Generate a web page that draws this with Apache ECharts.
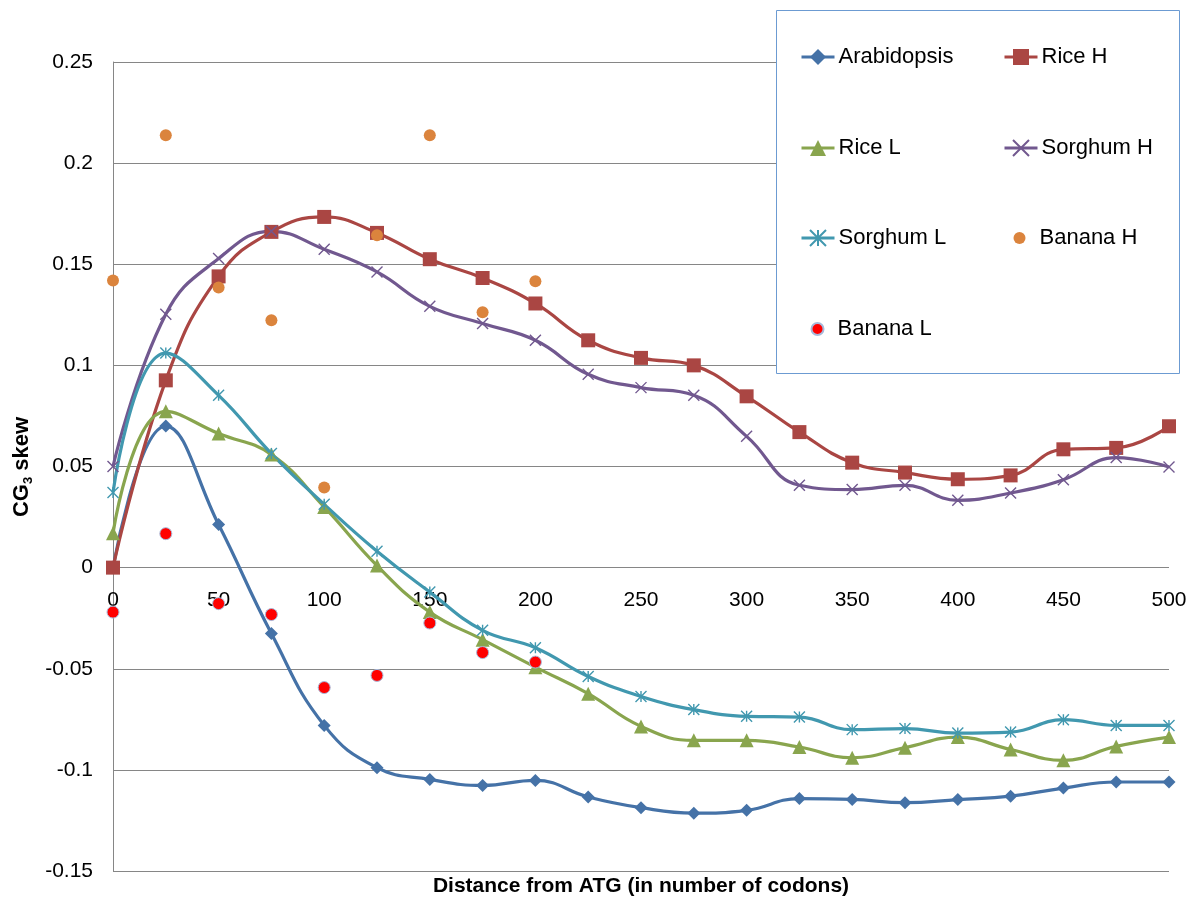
<!DOCTYPE html>
<html>
<head>
<meta charset="utf-8">
<title>CG3 skew vs distance from ATG</title>
<script src="https://cdn.jsdelivr.net/npm/echarts@6/dist/echarts.min.js"></script>
<style>
  html, body { margin: 0; padding: 0; background: #fff; }
  #chart { width: 1196px; height: 901px; }
</style>
</head>
<body>
<div id="chart"></div>
<script>
// Codon positions downstream of the ATG
const distance = [0, 25, 50, 75, 100, 125, 150, 175, 200, 225, 250, 275, 300, 325, 350, 375, 400, 425, 450, 475, 500];
const bananaDistance = [0, 25, 50, 75, 100, 125, 150, 175, 200];

// CG3 skew per species / expression group
const arabidopsis = [0.000, 0.070, 0.0213, -0.0326, -0.078, -0.0989, -0.1047, -0.1077, -0.1052, -0.1134, -0.1187, -0.1214, -0.120, -0.1142, -0.1146, -0.1162, -0.1147, -0.113, -0.109, -0.106, -0.106];
const riceH = [0.000, 0.0926, 0.144, 0.166, 0.1734, 0.1655, 0.1525, 0.1432, 0.1306, 0.1124, 0.1037, 0.100, 0.0847, 0.067, 0.0519, 0.047, 0.0437, 0.0456, 0.0585, 0.0592, 0.0699];
const riceL = [0.017, 0.0773, 0.0663, 0.0559, 0.030, 0.001, -0.022, -0.0356, -0.0492, -0.0623, -0.0785, -0.0854, -0.0854, -0.0887, -0.094, -0.089, -0.0838, -0.0899, -0.0953, -0.0884, -0.0838];
const sorghumH = [0.050, 0.1253, 0.1528, 0.1663, 0.1574, 0.1462, 0.1292, 0.1207, 0.1124, 0.0956, 0.089, 0.0852, 0.0649, 0.0407, 0.0386, 0.0407, 0.0333, 0.0369, 0.0435, 0.0544, 0.0498];
const sorghumL = [0.0371, 0.1061, 0.0852, 0.0564, 0.0313, 0.0081, -0.0121, -0.031, -0.0396, -0.0538, -0.0637, -0.0702, -0.0735, -0.0739, -0.0801, -0.0796, -0.0818, -0.0813, -0.0752, -0.078, -0.078];
const bananaH = [0.142, 0.2138, 0.1385, 0.1223, 0.0396, 0.1643, 0.2138, 0.1263, 0.1416];
const bananaL = [-0.022, 0.0168, -0.0178, -0.0232, -0.0593, -0.0533, -0.0274, -0.042, -0.0467];

// Axis ticks
const xTicks = { min: 0, max: 500, step: 50 };
const yTicks = { min: -0.15, max: 0.25, step: 0.05 };

const seriesNames = ['Arabidopsis', 'Rice H', 'Rice L', 'Sorghum H', 'Sorghum L', 'Banana H', 'Banana L'];

const pairs = (xs, ys) => xs.map((x, i) => [x, ys[i]]);

const font = "'Liberation Sans', Arial, sans-serif";
const gridColor = '#868686';

// Plot area
const gridBox = { left: 113, right: 27, top: 62, bottom: 30 };
const plotHeight = 901 - gridBox.top - gridBox.bottom;
// the category labels sit next to the zero line, as the x axis crosses at y = 0
const xAxisOffset = -plotHeight * (0 - yTicks.min) / (yTicks.max - yTicks.min);

const xMark = 'path://M0,0L10,10M10,0L0,10';
const starMark = 'path://M5,0L5,10M0,0L10,10M10,0L0,10';

function lineSeries(name, ys, color, symbol, size, extra) {
  return Object.assign({
    name: name,
    type: 'line',
    data: pairs(distance, ys),
    smooth: 0.45,
    symbol: symbol,
    symbolSize: size,
    showAllSymbol: true,
    lineStyle: { color: color, width: 3.2 },
    itemStyle: { color: color, opacity: 1 },
    emphasis: { disabled: true },
    z: 2
  }, extra || {});
}

const series = [
  lineSeries('Arabidopsis', arabidopsis, '#4572A7', 'diamond', 13),
  lineSeries('Rice H', riceH, '#AA4643', 'rect', 14),
  lineSeries('Rice L', riceL, '#89A54E', 'triangle', 14),
  lineSeries('Sorghum H', sorghumH, '#71588F', xMark, 11, {
    itemStyle: { color: '#71588F', borderColor: '#71588F', borderWidth: 1.4 }
  }),
  lineSeries('Sorghum L', sorghumL, '#4198AF', starMark, 11, {
    itemStyle: { color: '#4198AF', borderColor: '#4198AF', borderWidth: 1.4 }
  }),
  {
    name: 'Banana H',
    type: 'scatter',
    data: pairs(bananaDistance, bananaH),
    symbol: 'circle',
    symbolSize: 12,
    itemStyle: { color: '#DB843D', opacity: 1 },
    emphasis: { disabled: true },
    z: 3
  },
  {
    name: 'Banana L',
    type: 'scatter',
    data: pairs(bananaDistance, bananaL),
    symbol: 'circle',
    symbolSize: 12,
    itemStyle: { color: '#FF0000', borderColor: '#A7B9DA', borderWidth: 1, opacity: 1 },
    emphasis: { disabled: true },
    z: 3
  }
];

// Legend laid out as a two-column block inside a framed box
const legendCols = [800, 1003];
const legendRows = [57, 148, 238, 329];
const legends = seriesNames.map((name, i) => {
  const isDot = name.indexOf('Banana') === 0;
  const col = legendCols[i % 2];
  const item = {
    data: [isDot ? { name: name, icon: 'circle' } : name],
    left: isDot ? col + 16.5 - 6 : col,
    top: legendRows[Math.floor(i / 2)] - 12,
    padding: 0,
    itemWidth: isDot ? 12 : 33,
    itemHeight: isDot ? 12 : 20,
    itemGap: 0,
    selectedMode: false,
    textStyle: {
      fontFamily: font, fontSize: 22, color: '#000', lineHeight: 24,
      padding: [0, 0, 0, isDot ? 9 : -1]
    },
    z: 5
  };
  if (!isDot) item.lineStyle = { width: 3 };
  return item;
});

const chart = echarts.init(document.getElementById('chart'), null, { renderer: 'canvas' });

chart.setOption({
  backgroundColor: '#fff',
  animation: false,
  grid: Object.assign({ containLabel: false }, gridBox),
  legend: legends,
  xAxis: {
    type: 'value',
    position: 'bottom',
    offset: xAxisOffset,
    min: xTicks.min,
    max: xTicks.max,
    interval: xTicks.step,
    axisLine: { show: false, onZero: false },
    axisTick: { show: false },
    splitLine: { show: false },
    axisLabel: {
      fontFamily: font, fontSize: 21, color: '#000', margin: 22
    }
  },
  yAxis: {
    type: 'value',
    min: yTicks.min,
    max: yTicks.max,
    interval: yTicks.step,
    axisLine: { show: true, onZero: false, lineStyle: { color: gridColor, width: 1 } },
    axisTick: { show: false },
    splitLine: { show: true, lineStyle: { color: gridColor, width: 1 } },
    axisLabel: {
      fontFamily: font, fontSize: 21, color: '#000', margin: 20,
      formatter: v => String(+v.toFixed(2))
    }
  },
  graphic: [
    {
      type: 'rect',
      shape: { x: 776.5, y: 10.5, width: 403, height: 363 },
      style: { fill: '#fff', stroke: '#6C9BD2', lineWidth: 1 },
      z: 4
    },
    {
      type: 'text',
      x: 641, y: 886,
      style: {
        text: 'Distance from ATG (in number of codons)',
        font: "bold 21px 'Liberation Sans', Arial, sans-serif",
        fill: '#000',
        align: 'center',
        verticalAlign: 'middle'
      },
      z: 5
    },
    {
      type: 'text',
      x: 22, y: 467,
      rotation: Math.PI / 2,
      style: {
        text: '{a|CG}{s|3}{a| skew}',
        rich: {
          a: { font: "bold 22px 'Liberation Sans', Arial, sans-serif", fill: '#000', lineHeight: 26, verticalAlign: 'middle' },
          s: { font: "bold 13px 'Liberation Sans', Arial, sans-serif", fill: '#000', lineHeight: 26, verticalAlign: 'bottom' }
        },
        align: 'center',
        verticalAlign: 'middle'
      },
      z: 5
    }
  ],
  series: series
});
</script>
</body>
</html>
